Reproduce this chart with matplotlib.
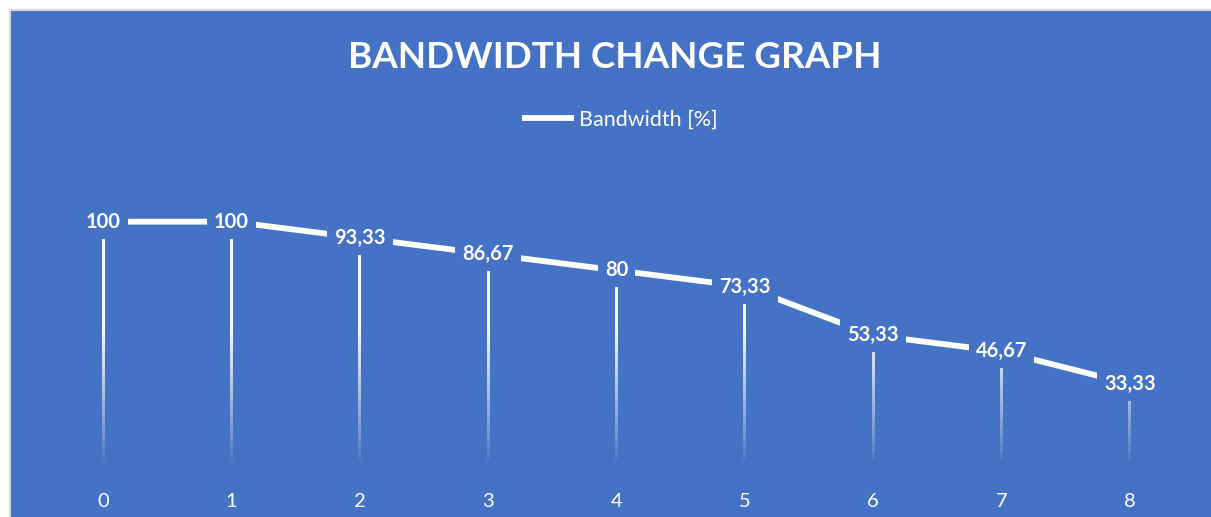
import numpy as np
import matplotlib
matplotlib.use("Agg")
import matplotlib.pyplot as plt
from matplotlib.patches import Rectangle

# ── data ────────────────────────────────────────────────────────────────
steps = [0, 1, 2, 3, 4, 5, 6, 7, 8]
bandwidth = [100, 100, 93.33, 86.67, 80, 73.33, 53.33, 46.67, 33.33]
series_name = "Bandwidth [%]"
title = "BANDWIDTH CHANGE GRAPH"
# ────────────────────────────────────────────────────────────────────────

BLUE = "#4472C4"
plt.rcParams["font.family"] = ["Lato", "DejaVu Sans"]

fig = plt.figure(figsize=(12.11, 5.17), dpi=100)
fig.patch.set_facecolor("white")

# blue chart area with thin grey border (Excel style)
bg = Rectangle((10 / 1211, -0.05), 1.05, (517 - 10) / 517 + 0.05,
               transform=fig.transFigure, facecolor=BLUE,
               edgecolor="#D9D9D9", linewidth=1.5, zorder=-10)
fig.patches.append(bg)

ax = fig.add_axes([39 / 1211, 52 / 517, 1155 / 1211, 292 / 517])
ax.set_facecolor("none")
for s in ax.spines.values():
    s.set_visible(False)

# drop lines: white fading out towards the axis
half_w = 0.011
for x, y in zip(range(len(steps)), bandwidth):
    ys = np.linspace(y, 0, 200)
    alpha = np.clip((ys / 55) ** 0.9, 0, 1) * 0.95
    grad = np.ones((len(ys), 1, 4))
    grad[:, 0, 3] = alpha
    ax.imshow(grad, extent=[x - half_w, x + half_w, 0, y], aspect="auto",
              interpolation="bilinear", zorder=2)

line, = ax.plot(range(len(steps)), bandwidth, color="white", lw=4.2,
                solid_capstyle="butt", zorder=3, label=series_name)

for x, y in zip(range(len(steps)), bandwidth):
    lbl = f"{y:g}".replace(".", ",")
    ax.text(x, y, lbl, ha="center", va="center", color="white",
            fontsize=14.5, fontweight="bold", zorder=5,
            bbox=dict(boxstyle="square,pad=0.35", facecolor=BLUE, edgecolor="none"))

ax.set_xlim(-0.5, len(steps) - 0.5)
ax.set_ylim(0, 120)
ax.set_yticks([])
ax.set_xticks(range(len(steps)))
ax.set_xticklabels([str(s) for s in steps], color="white", fontsize=14.5)
ax.tick_params(axis="x", length=0, pad=20)

fig.text(0.508, (517 - 57) / 517, title, ha="center", va="center",
         color="white", fontsize=26.5, fontweight="bold")

leg = fig.legend(handles=[line], loc="center", bbox_to_anchor=(0.512, (517 - 120) / 517),
                 frameon=False, fontsize=15.5, handlelength=2.4, handletextpad=0.25,
                 labelcolor="white")

fig.savefig("out.png", dpi=100, facecolor=fig.get_facecolor())
